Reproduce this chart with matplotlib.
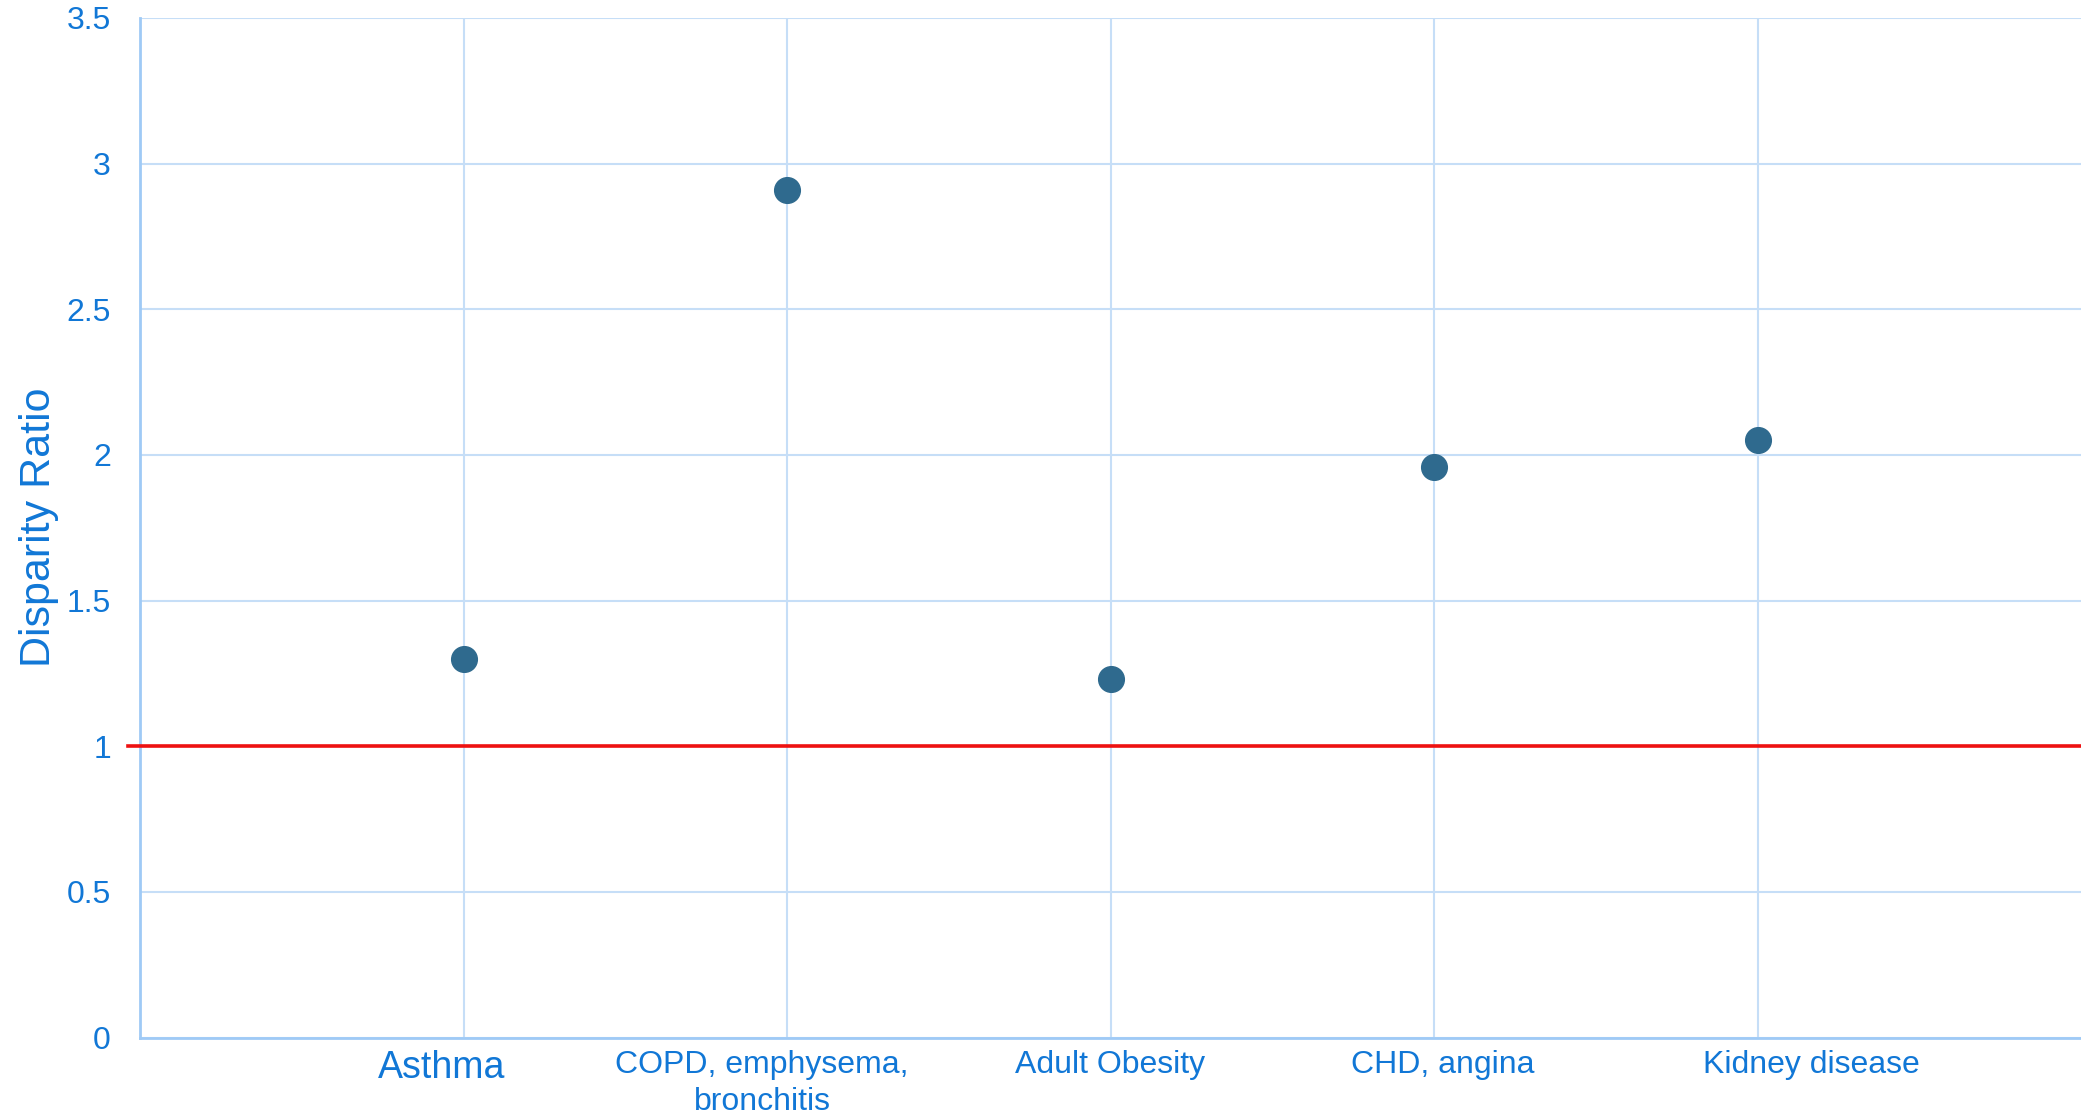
import matplotlib as mpl
import matplotlib.pyplot as plt
import matplotlib.transforms as mtrans

mpl.rcParams['font.family'] = ['Liberation Sans', 'DejaVu Sans']

# Disparity ratio per condition
conditions = ['Asthma', 'COPD, emphysema,\nbronchitis', 'Adult Obesity',
              'CHD, angina', 'Kidney disease']
ratios = [1.30, 2.91, 1.23, 1.96, 2.05]
y_ticks = [0, 0.5, 1, 1.5, 2, 2.5, 3, 3.5]
y_tick_labels = ['0', '0.5', '1', '1.5', '2', '2.5', '3', '3.5']
reference_level = 1

text_blue = '#1177d6'
grid_blue = '#c6def7'
spine_blue = '#9fcaf6'
dot_color = '#2f6a8e'

fig = plt.figure(figsize=(20.81, 11.18), dpi=100)
ax = fig.add_axes([0.0673, 0.072, 0.9327, 0.912])

x = list(range(1, len(conditions) + 1))
ax.plot(x, ratios, 'o', color=dot_color, markersize=18.5, zorder=4, linestyle='none')

ax.axhline(reference_level, xmin=-0.006, xmax=1, color='#ee1111', linewidth=2.6,
           zorder=3, clip_on=False)

ax.set_xlim(0, 6)
ax.set_ylim(0, 3.5)
ax.set_yticks(y_ticks)
ax.set_yticklabels(y_tick_labels)
ax.set_xticks(x)
ax.set_xticklabels(conditions)

ax.grid(True, color=grid_blue, linewidth=1.5, zorder=0)
ax.set_axisbelow(True)

for side in ['top', 'right']:
    ax.spines[side].set_visible(False)
for side in ['left', 'bottom']:
    ax.spines[side].set_color(spine_blue)
    ax.spines[side].set_linewidth(2)

ax.tick_params(axis='y', length=0, pad=21, labelsize=23, labelcolor=text_blue)
ax.tick_params(axis='x', length=0, pad=9, labelsize=23, labelcolor=text_blue)

# the exported labels sit a bit off their category lines
shifts = [-22, -25, 0, 9, 54]
for lab, dx in zip(ax.get_xticklabels(), shifts):
    lab.set_transform(lab.get_transform() + mtrans.ScaledTranslation(dx / 100, 0, fig.dpi_scale_trans))
    lab.set_linespacing(1.3)
ax.get_xticklabels()[0].set_fontsize(27)

ax.set_ylabel('Disparity Ratio', fontsize=31, color=text_blue)
ax.yaxis.set_label_coords(-0.042, 0.50)

plt.savefig('out.png', dpi=100)
